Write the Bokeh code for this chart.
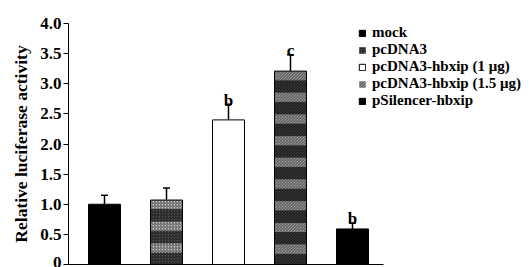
import numpy as np
from bokeh.plotting import figure
from bokeh.models import (ColumnDataSource, Whisker, TeeHead, Legend, LegendItem,
                          FixedTicker, Range1d)
from bokeh.core.properties import value
from bokeh.embed import file_html
from bokeh.resources import INLINE

# ---- data ----
categories = ["mock", "pcDNA3", "pcDNA3-hbxip (1 \u03bcg)",
              "pcDNA3-hbxip (1.5 \u03bcg)", "pSilencer-hbxip"]
values = [1.00, 1.07, 2.40, 3.21, 0.59]
errors = [0.15, 0.20, 0.26, 0.27, 0.10]
letters = ["", "", "b", "c", "b"]
y_ticks = [0, 0.5, 1.0, 1.5, 2.0, 2.5, 3.0, 3.5, 4.0]
y_tick_labels = ["0", "0.5", "1.0", "1.5", "2.0", "2.5", "3.0", "3.5", "4.0"]

# ---- style ----
FONT = "Liberation Serif"
BAR_W = 0.516
fill_colors = ["black", "white", "white", "white", "black"]
fill_alphas = [1, 0, 1, 0, 1]
STRIPE_LIGHT = 0.15
STRIPE_DARK = 0.21
X_START = 0.4194
X_END = 7.871
BASELINE_END = 5.5

xs = list(range(1, len(categories) + 1))
upper = [v + e for v, e in zip(values, errors)]

p = figure(width=530, height=267, output_backend="svg", toolbar_location=None,
           x_range=Range1d(X_START, X_END), y_range=Range1d(0, 4.0),
           min_border_left=68, min_border_right=0, min_border_top=23,
           min_border_bottom=3)
p.outline_line_color = None
p.xgrid.visible = False
p.ygrid.visible = False


def stripes(xc, top):
    xs_, bs, ts, kinds = [], [], [], []
    t = top
    light = True
    while t > 1e-9:
        h = STRIPE_LIGHT if light else STRIPE_DARK
        b = max(0.0, t - h)
        xs_.append(xc); bs.append(b); ts.append(t); kinds.append(light)
        t = b
        light = not light
    return xs_, bs, ts, kinds


def stripe_sources(i):
    sx, sb, st, sk = stripes(xs[i], values[i])
    light = ColumnDataSource(dict(x=[a for a, k in zip(sx, sk) if k],
                                  bottom=[a for a, k in zip(sb, sk) if k],
                                  top=[a for a, k in zip(st, sk) if k]))
    dark = ColumnDataSource(dict(x=[a for a, k in zip(sx, sk) if not k],
                                 bottom=[a for a, k in zip(sb, sk) if not k],
                                 top=[a for a, k in zip(st, sk) if not k]))
    return light, dark


l2, d2 = stripe_sources(1)
l4, d4 = stripe_sources(3)
r2l = p.vbar(x="x", bottom="bottom", top="top", width=BAR_W, source=l2,
             fill_color="#c4c4c4", line_color=None, hatch_pattern="/",
             hatch_color="#505050", hatch_scale=3, hatch_weight=1)
r2d = p.vbar(x="x", bottom="bottom", top="top", width=BAR_W, source=d2,
             fill_color="#505050", line_color=None, hatch_pattern="/",
             hatch_color="#1a1a1a", hatch_scale=3, hatch_weight=1)
r4l = p.vbar(x="x", bottom="bottom", top="top", width=BAR_W, source=l4,
             fill_color="#bdbdbd", line_color=None, hatch_pattern="\\",
             hatch_color="#4a4a4a", hatch_scale=3, hatch_weight=1)
r4d = p.vbar(x="x", bottom="bottom", top="top", width=BAR_W, source=d4,
             fill_color="#4a4a4a", line_color=None, hatch_pattern="\\",
             hatch_color="#151515", hatch_scale=3, hatch_weight=1)

src = ColumnDataSource(dict(x=xs, top=values, upper=upper, lower=values,
                            fill=fill_colors, alpha=fill_alphas, letter=letters))
bars = p.vbar(x="x", top="top", bottom=0, width=BAR_W, source=src,
              fill_color="fill", fill_alpha="alpha", line_color="black",
              line_width=1)

p.add_layout(Whisker(base="x", upper="upper", lower="lower", source=src,
                     dimension="height", line_color="black", line_width=1.5,
                     upper_head=TeeHead(size=7, line_width=1.5,
                                        line_color="black"),
                     lower_head=None))

p.text(x="x", y="upper", text="letter", source=src, text_font=value(FONT),
       text_font_style="bold", text_font_size="17px", text_align="center",
       text_baseline="alphabetic", y_offset=-4, text_color="black")

# x axis: only a baseline, no ticks or labels
xa = p.xaxis[0]
xa.ticker = FixedTicker(ticks=[])
xa.bounds = (X_START, BASELINE_END)
xa.major_tick_out = 0
xa.major_tick_in = 0
xa.minor_tick_line_color = None
xa.major_label_standoff = 0
xa.axis_line_color = "black"

ax = p.yaxis[0]
ax.ticker = FixedTicker(ticks=y_ticks)
ax.major_label_overrides = {t: l for t, l in zip(y_ticks, y_tick_labels)}
ax.minor_tick_line_color = None
ax.major_tick_in = 0
ax.major_tick_out = 5
ax.major_label_standoff = 2
ax.axis_line_color = "black"
ax.major_tick_line_color = "black"
ax.major_label_text_font = FONT
ax.major_label_text_font_style = "bold"
ax.major_label_text_font_size = "17px"
ax.major_label_text_color = "black"
ax.axis_label = "Relative luciferase activity"
ax.axis_label_text_font = FONT
ax.axis_label_text_font_style = "bold"
ax.axis_label_text_font_size = "17.5px"
ax.axis_label_text_color = "black"
ax.axis_label_standoff = 6

legend_renderers = [(bars, 0), (r2d, 0), (bars, 2), (r4l, 0), (bars, 4)]
items = [LegendItem(label=c, renderers=[r], index=i)
         for c, (r, i) in zip(categories, legend_renderers)]
legend = Legend(items=items, location=(290, 155), orientation="vertical",
                glyph_width=8, glyph_height=8, label_height=12, spacing=-2,
                padding=0, margin=0, border_line_color=None,
                background_fill_alpha=0, label_standoff=6,
                label_text_font=FONT, label_text_font_style="bold",
                label_text_font_size="15px",
                label_text_color="black")
p.add_layout(legend)

open("out.html", "w").write(file_html(p, INLINE))
